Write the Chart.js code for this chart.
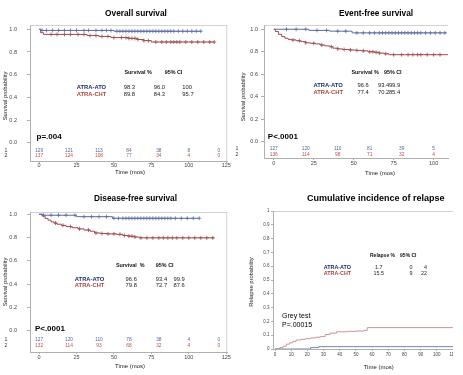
<!DOCTYPE html>
<html>
<head>
<meta charset="utf-8">
<title>Survival curves</title>
<script src="https://cdn.jsdelivr.net/npm/chart.js@4.4.1/dist/chart.umd.min.js"></script>
<style>
  body { margin: 0; background: #fff; }
  #fig { position: relative; width: 463px; height: 375px; overflow: hidden; }
  #fig canvas { position: absolute; }
</style>
</head>
<body>
<div id="fig">
  <canvas id="chart-os" width="232" height="187" style="left:0;top:0"></canvas>
  <canvas id="chart-efs" width="221" height="187" style="left:232px;top:0"></canvas>
  <canvas id="chart-dfs" width="232" height="188" style="left:0;top:187px"></canvas>
  <canvas id="chart-cir" width="221" height="188" style="left:232px;top:187px"></canvas>
</div>
<script>
/*
-------------------------------------------------------------------------
Data
-------------------------------------------------------------------------
*/
const survXTicks = [0, 25, 50, 75, 100, 125];
const survYTicks = [0, 0.2, 0.4, 0.6, 0.8, 1.0];
const cirXTicks = [0, 10, 20, 30, 40, 50, 60, 70, 80, 90, 100, 110];
const cirYTicks = [0, 0.1, 0.2, 0.3, 0.4, 0.5, 0.6, 0.7, 0.8, 0.9, 1];
const riskTimes = [0, 20, 40, 60, 80, 100, 120];
const armNames = ["ATRA-ATO", "ATRA-CHT"];

// Overall survival
const osAtoTime = [0, 1.5, 50, 108];
const osAtoSurv = [1, 0.99, 0.983, 0.983];
const osAtoCens = [2, 5, 9, 13, 17, 21, 25, 30, 33, 38, 42, 45, 48, 52, 54, 56, 58, 60, 62, 64, 66, 68, 70, 72, 74, 76, 78, 80, 82, 84, 86, 88, 90, 93, 96, 99, 102, 105, 108];
const osChtTime = [0, 1, 3, 32, 40, 48, 60, 66, 70, 75, 117];
const osChtSurv = [1, 0.97, 0.955, 0.945, 0.937, 0.927, 0.92, 0.91, 0.9, 0.888, 0.888];
const osChtCens = [8, 12, 17, 21, 26, 30, 34, 38, 42, 46, 50, 55, 58, 60, 62, 64, 66, 70, 73, 78, 82, 85, 88, 90, 92, 94, 98, 102, 106, 110, 114, 117];
const osRiskAto = [129, 121, 113, 84, 38, 8, 0];
const osRiskCht = [137, 124, 108, 77, 34, 4, 0];
const osAtoStats = ["98.3", "96.0", "100"];
const osChtStats = ["89.8", "84.3", "95.7"];

// Event-free survival
const efsAtoTime = [0, 22, 35, 49, 108];
const efsAtoSurv = [1, 0.99, 0.983, 0.968, 0.968];
const efsAtoCens = [8, 14, 20, 27, 33, 40, 45, 52, 56, 60, 63, 66, 68, 70, 72, 74, 76, 78, 80, 82, 84, 86, 88, 90, 92, 95, 98, 101, 104, 107];
const efsChtTime = [0, 1, 3, 5, 7, 9, 11, 14, 17, 20, 23, 26, 29, 32, 35, 37, 40, 43, 47, 51, 55, 59, 63, 66, 69, 72, 109];
const efsChtSurv = [1, 0.98, 0.955, 0.935, 0.92, 0.91, 0.905, 0.898, 0.89, 0.88, 0.875, 0.87, 0.86, 0.852, 0.845, 0.832, 0.826, 0.82, 0.816, 0.812, 0.808, 0.8, 0.795, 0.788, 0.782, 0.774, 0.774];
const efsChtCens = [12, 16, 20, 25, 30, 36, 40, 44, 48, 52, 56, 60, 62, 64, 66, 70, 75, 80, 84, 87, 90, 92, 96, 100, 104];
const efsRiskAto = [127, 120, 110, 81, 39, 5];
const efsRiskCht = [136, 114, 98, 71, 32, 4];
const efsAtoStats = ["96.6", "93.4", "99.9"];
const efsChtStats = ["77.4", "70.2", "85.4"];

// Disease-free survival
const dfsAtoTime = [0, 3, 25, 49, 107];
const dfsAtoSurv = [1, 0.992, 0.98, 0.966, 0.966];
const dfsAtoCens = [3, 8, 13, 18, 24, 30, 35, 40, 45, 50, 53, 56, 58, 60, 62, 64, 66, 68, 70, 72, 74, 76, 78, 80, 82, 84, 86, 88, 91, 95, 99, 103, 107];
const dfsChtTime = [0, 2, 4, 6, 8, 10, 12, 15, 18, 22, 26, 30, 34, 37, 41, 46, 52, 56, 60, 64, 67, 117];
const dfsChtSurv = [1, 0.985, 0.965, 0.95, 0.935, 0.925, 0.915, 0.905, 0.895, 0.885, 0.875, 0.865, 0.855, 0.84, 0.835, 0.832, 0.828, 0.818, 0.812, 0.805, 0.798, 0.798];
const dfsChtCens = [11, 16, 21, 27, 33, 38, 42, 46, 50, 54, 57, 60, 62, 64, 68, 72, 76, 80, 83, 86, 89, 92, 96, 100, 104, 108, 112, 116];
const dfsRiskAto = [127, 120, 110, 78, 38, 4, 0];
const dfsRiskCht = [132, 114, 93, 68, 32, 4, 0];
const dfsAtoStats = ["96.6", "93.4", "99.9"];
const dfsChtStats = ["79.8", "72.7", "87.6"];

// Cumulative incidence of relapse
const cirAtoTime = [0, 22, 27, 110];
const cirAtoInc = [0, 0.01, 0.017, 0.017];
const cirChtTime = [0, 3, 5, 7, 9, 11, 13, 16, 19, 22, 25, 28, 31, 34, 38, 45, 50, 55, 57, 110];
const cirChtInc = [0, 0.01, 0.02, 0.035, 0.045, 0.055, 0.065, 0.07, 0.075, 0.08, 0.085, 0.09, 0.105, 0.115, 0.125, 0.128, 0.13, 0.135, 0.155, 0.155];
const cirAtoStats = ["1.7", "0", "4"];
const cirChtStats = ["15.5", "9", "22"];

/*
-------------------------------------------------------------------------
Styles
-------------------------------------------------------------------------
*/
const FAMILY = '"Liberation Sans", Arial, sans-serif';
const NAVY = "#1f2870";
const BROWN = "#a4483f";
const LINE_BLUE = "#5d6ca6";
const LINE_RED = "#a14d4d";
const RISK_BLUE = "#5466a8";
const RISK_RED = "#c0504d";
const FRAME = "#d2d2d2";
const AXIS = "#b0b0b0";

Chart.defaults.font.family = FAMILY;

const font = (weight, size) => `${weight} ${size}px ${FAMILY}`;

const stepPoints = (times, vals) => times.map((t, i) => ({ x: t, y: vals[i] }));

// censored marks sit on the curve value at that time
function censorPoints(times, vals, cens) {
    return cens.map((c) => {
        let v = vals[0];
        times.forEach((t, i) => { if (t <= c) v = vals[i]; });
        return { x: c, y: v };
    });
}

function curveSets(time, vals, cens, color) {
    const sets = [{
        data: stepPoints(time, vals),
        stepped: true,
        borderColor: color,
        borderWidth: 1,
        pointRadius: 0,
        fill: false,
    }];
    if (cens) {
        sets.push({
            data: censorPoints(time, vals, cens),
            showLine: false,
            pointStyle: "cross",
            pointRadius: 2,
            borderWidth: 0.8,
            borderColor: color,
            backgroundColor: color,
        });
    }
    return sets;
}

function panelDecor(p) {
    return {
        id: "panelDecor",
        beforeDraw(chart) {
            const { ctx, chartArea: a } = chart;
            ctx.save();
            ctx.strokeStyle = FRAME;
            ctx.lineWidth = 1;
            ctx.beginPath();
            ctx.moveTo(a.left, a.top + 0.5);
            ctx.lineTo(a.right, a.top + 0.5);
            if (p.frameRight) {
                ctx.lineTo(a.right - 0.5, a.top + 0.5);
                ctx.lineTo(a.right - 0.5, a.bottom);
            }
            ctx.stroke();
            ctx.restore();
        },
        afterDraw(chart) {
            const { ctx, scales } = chart;
            const px = (v) => scales.x.getPixelForValue(v);
            const py = (v) => scales.y.getPixelForValue(v);
            const put = (txt, x, y, f, color, align) => {
                ctx.font = f;
                ctx.fillStyle = color;
                ctx.textAlign = align || "left";
                ctx.textBaseline = "middle";
                ctx.fillText(txt, x, y);
            };
            ctx.save();
            put(p.title, p.titlePos[0], p.titlePos[1], font("bold", p.titleSize), "#000", "center");
            put("Time (mos)", p.xTitlePos[0], p.xTitlePos[1], font("", 6), "#222", "center");
            ctx.save();
            ctx.translate(p.yTitlePos[0], p.yTitlePos[1]);
            ctx.rotate(-Math.PI / 2);
            put(p.yTitle, 0, 0, font("", 5.8), "#222", "center");
            ctx.restore();

            // summary table
            const tb = p.table;
            tb.head.forEach((h, i) => put(h, px(tb.headX[i]), py(tb.headY), font("bold", tb.size), "#111", "left"));
            tb.rows.forEach((r) => {
                put(r.label, px(tb.labelX), py(r.y), font("bold", tb.size + 0.4), r.color, "left");
                r.vals.forEach((v, i) => put(v, px(tb.colX[i]), py(r.y), font("", tb.size + 0.4), "#222", tb.colAlign[i]));
            });

            p.notes.forEach((n) => put(n.text, px(n.x), py(n.y), font(n.bold ? "bold" : "", n.size), "#000", "left"));

            // numbers at risk
            if (p.risk) {
                p.risk.rows.forEach((r) => {
                    put(r.label, p.risk.labelX, py(r.y), font("", 5.2), "#333", "center");
                    r.vals.forEach((v, i) => put(String(v), px(p.risk.times[i]), py(r.y), font("", 4.8), r.color, "center"));
                });
            }
            ctx.restore();
        },
    };
}

function makePanel(id, p) {
    new Chart(document.getElementById(id), {
        type: "line",
        data: { datasets: p.datasets },
        options: {
            responsive: false,
            animation: false,
            events: [],
            layout: { padding: { top: p.top, left: 0, right: 0, bottom: 0 } },
            plugins: { legend: { display: false }, tooltip: { enabled: false } },
            scales: {
                x: {
                    type: "linear",
                    min: p.xMin,
                    max: p.xMax,
                    afterBuildTicks: (s) => { s.ticks = p.xTicks.map((v) => ({ value: v })); },
                    afterFit: (s) => {
                        s.height = p.xHeight;
                        s.paddingLeft = 0; s.paddingRight = 0;
                    },
                    ticks: {
                        autoSkip: false,
                        maxRotation: 0,
                        padding: p.xPad,
                        color: "#444",
                        font: { size: p.tickSize, lineHeight: 1 },
                        callback: (v) => String(v),
                    },
                    grid: { drawOnChartArea: false, drawTicks: true, tickLength: 2, color: AXIS },
                    border: { display: true, color: AXIS },
                },
                y: {
                    type: "linear",
                    min: p.yMin,
                    max: p.yMax,
                    afterBuildTicks: (s) => { s.ticks = p.yTicks.map((v) => ({ value: v })); },
                    afterFit: (s) => {
                        s.width = p.yWidth;
                        s.paddingTop = 0; s.paddingBottom = 0;
                    },
                    ticks: {
                        autoSkip: false,
                        padding: p.yPad,
                        color: "#444",
                        font: { size: p.tickSize, lineHeight: 1 },
                        callback: p.yFormat,
                    },
                    grid: { drawOnChartArea: false, drawTicks: true, tickLength: p.yTick, color: AXIS },
                    border: { display: true, color: AXIS },
                },
            },
        },
        plugins: [panelDecor(p)],
    });
}

const oneDecimal = (v) => v.toFixed(1);

/*
-------------------------------------------------------------------------
Overall survival
-------------------------------------------------------------------------
*/
makePanel("chart-os", {
    datasets: [
        ...curveSets(osAtoTime, osAtoSurv, osAtoCens, LINE_BLUE),
        ...curveSets(osChtTime, osChtSurv, osChtCens, LINE_RED),
    ],
    top: 25, xHeight: 26, yWidth: 30, xPad: 0, yPad: 10, yTick: 3, tickSize: 5.5, frameRight: true,
    xMin: -6.06, xMax: 125.65, yMin: -0.161, yMax: 1.038,
    xTicks: survXTicks, yTicks: survYTicks, yFormat: oneDecimal,
    title: "Overall survival", titlePos: [136, 14], titleSize: 8.3,
    xTitlePos: [130, 172.5], yTitle: "Survival probability", yTitlePos: [5.5, 96],
    table: {
        size: 5.4, head: ["Survival %", "95% CI"], headX: [57, 83.9], headY: 0.617,
        labelX: 25.2, colX: [56.5, 76.6, 95.7], colAlign: ["left", "left", "left"],
        rows: [
            { label: armNames[0], vals: osAtoStats, y: 0.489, color: NAVY },
            { label: armNames[1], vals: osChtStats, y: 0.43, color: BROWN },
        ],
    },
    notes: [{ text: "p=.004", x: -1.7, y: 0.048, size: 8, bold: true }],
    risk: {
        times: riskTimes, labelX: 6,
        rows: [
            { label: "1", vals: osRiskAto, y: -0.073, color: RISK_BLUE },
            { label: "2", vals: osRiskCht, y: -0.117, color: RISK_RED },
        ],
    },
});

/*
-------------------------------------------------------------------------
Event-free survival
-------------------------------------------------------------------------
*/
makePanel("chart-efs", {
    datasets: [
        ...curveSets(efsAtoTime, efsAtoSurv, efsAtoCens, LINE_BLUE),
        ...curveSets(efsChtTime, efsChtSurv, efsChtCens, LINE_RED),
    ],
    top: 25, xHeight: 29, yWidth: 32, xPad: 1, yPad: 3, yTick: 3, tickSize: 5.5, frameRight: false,
    xMin: -6.1, xMax: 109.1, yMin: -0.145, yMax: 1.038,
    xTicks: survXTicks.slice(0, 5), yTicks: survYTicks, yFormat: oneDecimal,
    title: "Event-free survival", titlePos: [144, 14], titleSize: 8.3,
    xTitlePos: [148, 173.3], yTitle: "Survival probability", yTitlePos: [11.7, 97],
    table: {
        size: 5.4, head: ["Survival %", "95% CI"], headX: [48.6, 68.9], headY: 0.614,
        labelX: 24.8, colX: [52.4, 65.2, 72], colAlign: ["left", "left", "left"],
        rows: [
            { label: armNames[0], vals: efsAtoStats, y: 0.498, color: NAVY },
            { label: armNames[1], vals: efsChtStats, y: 0.44, color: BROWN },
        ],
    },
    notes: [{ text: "P<.0001", x: -3.7, y: 0.044, size: 8, bold: true }],
    risk: {
        times: riskTimes.slice(0, 6), labelX: 5,
        rows: [
            { label: "1", vals: efsRiskAto, y: -0.065, color: RISK_BLUE },
            { label: "2", vals: efsRiskCht, y: -0.118, color: RISK_RED },
        ],
    },
});

/*
-------------------------------------------------------------------------
Disease-free survival
-------------------------------------------------------------------------
*/
makePanel("chart-dfs", {
    datasets: [
        ...curveSets(dfsAtoTime, dfsAtoSurv, dfsAtoCens, LINE_BLUE),
        ...curveSets(dfsChtTime, dfsChtSurv, dfsChtCens, LINE_RED),
    ],
    top: 25, xHeight: 23, yWidth: 30, xPad: 1, yPad: 10, yTick: 3, tickSize: 5.5, frameRight: true,
    xMin: -6.06, xMax: 125.65, yMin: -0.183, yMax: 1.02,
    xTicks: survXTicks, yTicks: survYTicks, yFormat: oneDecimal,
    title: "Disease-free survival", titlePos: [135.5, 11.3], titleSize: 8.3,
    xTitlePos: [130, 179.7], yTitle: "Survival probability", yTitlePos: [5.5, 95],
    table: {
        size: 5.4, head: ["Survival  %", "95% CI"], headX: [51.3, 78], headY: 0.556,
        labelX: 23.9, colX: [57.8, 78, 89.8], colAlign: ["left", "left", "left"],
        rows: [
            { label: armNames[0], vals: dfsAtoStats, y: 0.442, color: NAVY },
            { label: armNames[1], vals: dfsChtStats, y: 0.39, color: BROWN },
        ],
    },
    notes: [{ text: "P<.0001", x: -2.8, y: 0.02, size: 8, bold: true }],
    risk: {
        times: riskTimes, labelX: 6,
        rows: [
            { label: "1", vals: dfsRiskAto, y: -0.08, color: RISK_BLUE },
            { label: "2", vals: dfsRiskCht, y: -0.131, color: RISK_RED },
        ],
    },
});

/*
-------------------------------------------------------------------------
Cumulative incidence of relapse
-------------------------------------------------------------------------
*/
makePanel("chart-cir", {
    datasets: [
        ...curveSets(cirAtoTime, cirAtoInc, null, "#6f86ad"),
        ...curveSets(cirChtTime, cirChtInc, null, "#cc9595"),
    ],
    top: 24, xHeight: 26, yWidth: 41, xPad: 2, yPad: 1.5, yTick: 2, tickSize: 4.5, frameRight: false,
    xMin: -1.24, xMax: 110, yMin: 0, yMax: 1,
    xTicks: cirXTicks, yTicks: cirYTicks,
    yFormat: (v) => (v === 0 || v === 1 ? String(v) : v.toFixed(1)),
    title: "Cumulative incidence of relapse", titlePos: [143.7, 12], titleSize: 9,
    xTitlePos: [146.7, 180.7], yTitle: "Relapse probability", yTitlePos: [19.3, 95],
    table: {
        size: 5, head: ["Relapse %", "95% CI"], headX: [58.7, 77.3], headY: 0.677,
        labelX: 30.1, colX: [64.1, 84, 94], colAlign: ["center", "center", "right"],
        rows: [
            { label: armNames[0], vals: cirAtoStats, y: 0.59, color: NAVY },
            { label: armNames[1], vals: cirChtStats, y: 0.55, color: BROWN },
        ],
    },
    notes: [
        { text: "Grey test", x: 4.3, y: 0.236, size: 7, bold: false },
        { text: "P=.00015", x: 4.3, y: 0.176, size: 7, bold: false },
    ],
    risk: null,
});
</script>
</body>
</html>
